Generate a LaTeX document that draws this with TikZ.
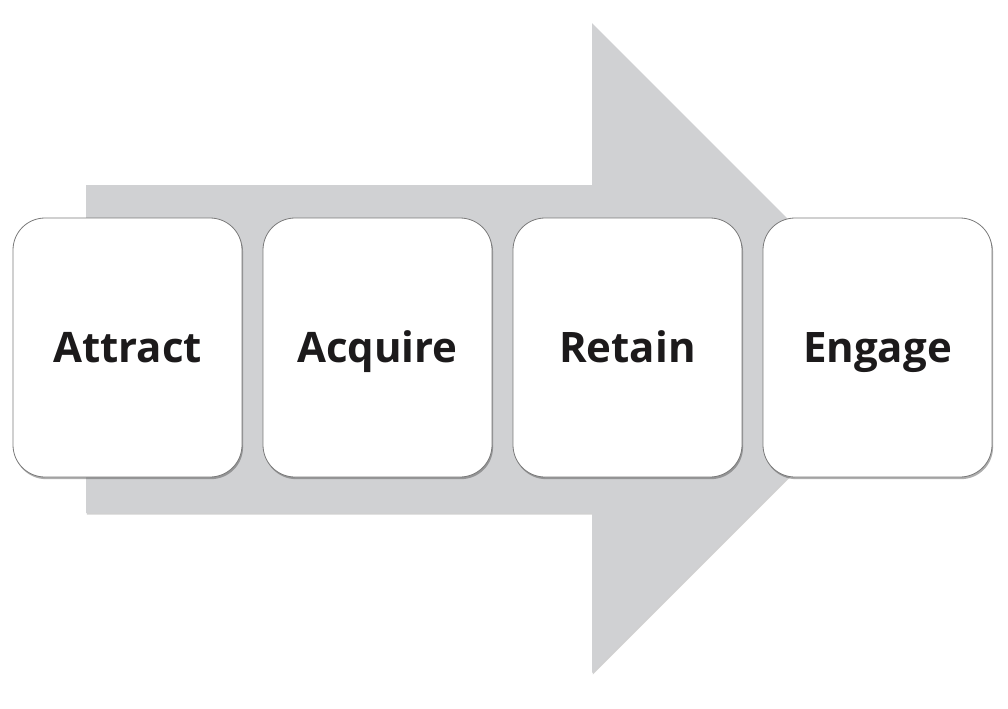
\documentclass[tikz,border=0pt]{standalone}
\usepackage{fontspec}
\setmainfont{Open Sans}
\usetikzlibrary{shadows}
\definecolor{arrowgray}{HTML}{D0D1D3}
\definecolor{boxborder}{HTML}{7A7A7A}
\definecolor{textdark}{HTML}{1C1A1B}
\tikzset{
  stagebox/.style={draw=boxborder, line width=0.6pt, fill=white, rounded corners=24pt,
    minimum width=171.75pt, minimum height=194.25pt, inner sep=0pt,
    text height=21.75pt, text depth=0pt,
    font=\fontsize{31.5}{36}\selectfont\bfseries, text=textdark,
    drop shadow={shadow xshift=0.8pt, shadow yshift=-1.6pt, opacity=0.45, fill=black!70}},
  bigarrow/.style={fill=arrowgray,
    drop shadow={shadow xshift=0.6pt, shadow yshift=-1.2pt, opacity=0.3, fill=black!60}}
}
\begin{document}
\begin{tikzpicture}[x=0.75pt,y=-0.75pt]
\useasboundingbox (0,0) rectangle (1008,708);
\fill[white] (0,0) rectangle (1008,708);
% big arrow
\coordinate (sTL) at (86,185);
\coordinate (hT) at (592,185);
\coordinate (hTT) at (592,23);
\coordinate (tip) at (917,348);
\coordinate (hBB) at (592,673);
\coordinate (hB) at (592,513);
\coordinate (sBL) at (86,513);
\path[bigarrow] (sTL) -- (hT) -- (hTT) -- (tip) -- (hBB) -- (hB) -- (sBL) -- cycle;
% boxes
\node[stagebox] (attract) at (127.5,347.5) {Attract};
\node[stagebox] (acquire) at (377.5,347.5) {Acquire};
\node[stagebox] (retain) at (627.5,347.5) {Retain};
\node[stagebox] (engage) at (877.5,347.5) {Engage};
\end{tikzpicture}
\end{document}
